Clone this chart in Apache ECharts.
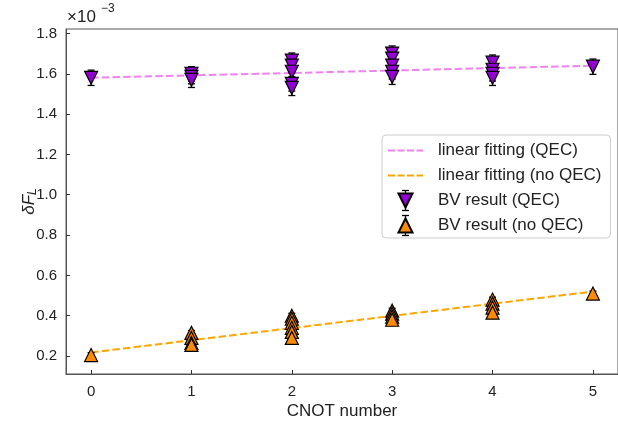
<!DOCTYPE html>
<html>
<head>
<meta charset="utf-8">
<script src="https://cdn.jsdelivr.net/npm/echarts@6/dist/echarts.min.js"></script>
<style>html,body{margin:0;padding:0;background:#fff}#c{width:618px;height:428px}</style>
</head>
<body>
<div id="c"></div>
<script>
// ---- data ----
const xTicks = [0, 1, 2, 3, 4, 5];
const yTicks = [0.2, 0.4, 0.6, 0.8, 1.0, 1.2, 1.4, 1.6, 1.8];

const qecX   = [0, 1, 1, 1, 2, 2, 2, 2, 2, 3, 3, 3, 3, 3, 4, 4, 4, 4, 5];
const qecY   = [1.58, 1.60, 1.585, 1.57, 1.665, 1.64, 1.61, 1.55, 1.53, 1.70, 1.675, 1.64, 1.61, 1.585, 1.655, 1.62, 1.60, 1.58, 1.635];
const qecErr = [0.038, 0.035, 0.035, 0.038, 0.038, 0.036, 0.036, 0.036, 0.038, 0.038, 0.036, 0.036, 0.036, 0.038, 0.038, 0.036, 0.036, 0.038, 0.038];

const noqecX   = [0, 1, 1, 1, 1, 2, 2, 2, 2, 2, 2, 3, 3, 3, 3, 4, 4, 4, 4, 5];
const noqecY   = [0.205, 0.315, 0.29, 0.265, 0.255, 0.40, 0.385, 0.365, 0.34, 0.32, 0.29, 0.425, 0.41, 0.395, 0.38, 0.48, 0.46, 0.44, 0.415, 0.51];
const noqecErr = [0.012, 0.012, 0.012, 0.012, 0.012, 0.012, 0.012, 0.012, 0.012, 0.012, 0.012, 0.012, 0.012, 0.012, 0.012, 0.012, 0.012, 0.012, 0.012, 0.012];

const fitX      = [0, 5];
const fitQEC    = [1.58, 1.64];
const fitNoQEC  = [0.218, 0.52];

const names = ['linear fitting (QEC)', 'linear fitting (no QEC)', 'BV result (QEC)', 'BV result (no QEC)'];

// ---- build ----
const zip = (xs, ys) => xs.map((x, i) => [x, ys[i]]);
const errData = (xs, ys, es) => xs.map((x, i) => [x, ys[i] - es[i], ys[i] + es[i]]);

function errRender(params, api) {
  const x = api.value(0), lo = api.value(1), hi = api.value(2);
  const p1 = api.coord([x, hi]);
  const p2 = api.coord([x, lo]);
  const hw = 3.5;
  const st = { stroke: '#000', lineWidth: 1.3 };
  return {
    type: 'group',
    children: [
      { type: 'line', shape: { x1: p1[0], y1: p1[1], x2: p2[0], y2: p2[1] }, style: st },
      { type: 'line', shape: { x1: p1[0] - hw, y1: p1[1], x2: p1[0] + hw, y2: p1[1] }, style: st },
      { type: 'line', shape: { x1: p2[0] - hw, y1: p2[1], x2: p2[0] + hw, y2: p2[1] }, style: st }
    ]
  };
}

const FONT = 'Liberation Sans, Arial, sans-serif';
const DASH_ICON = 'path://M0,0h7v1.8h-7z M9.5,0h7v1.8h-7z M19,0h7v1.8h-7z M28.5,0h6.5v1.8h-6.5z';
const DOWN_TRI = 'path://M0,0L14,0L7,14Z';
const UP_TRI = 'path://M7,0L14,14L0,14Z';

// legend error-bar glyphs (legend icon decoration)
const LX = 405.5, ROW3 = 200.5, ROW4 = 225.5, LH = 10, LC = 3.5;
function legendErr(cy) {
  const st = { stroke: '#000', lineWidth: 1.3 };
  return [
    { type: 'line', z: 1, shape: { x1: LX, y1: cy - LH, x2: LX, y2: cy + LH }, style: st },
    { type: 'line', z: 1, shape: { x1: LX - LC, y1: cy - LH, x2: LX + LC, y2: cy - LH }, style: st },
    { type: 'line', z: 1, shape: { x1: LX - LC, y1: cy + LH, x2: LX + LC, y2: cy + LH }, style: st }
  ];
}

const chart = echarts.init(document.getElementById('c'), null, { renderer: 'canvas' });

chart.setOption({
  animation: false,
  backgroundColor: '#fff',
  textStyle: { fontFamily: FONT },
  grid: { left: 66, top: 29, right: -4, bottom: 54, show: true, borderColor: '#555', borderWidth: 1, backgroundColor: 'transparent' },
  xAxis: {
    type: 'value', min: -0.25, max: 5.25,
    name: 'CNOT number', nameLocation: 'middle', nameGap: 29, nameMoveOverlap: false,
    nameTextStyle: { fontSize: 17, color: '#222', fontFamily: FONT },
    axisLine: { show: true, onZero: false, lineStyle: { color: '#555', width: 1 } },
    axisTick: { show: true, inside: true, length: 4, customValues: xTicks, lineStyle: { color: '#333' } },
    axisLabel: { customValues: xTicks, fontSize: 15, color: '#222', margin: 10, fontFamily: FONT },
    splitLine: { show: false }
  },
  yAxis: {
    type: 'value', min: 0.111, max: 1.822,
    name: '{a|δF}{s|L}', nameLocation: 'middle', nameGap: 27, nameMoveOverlap: false,
    nameTextStyle: {
      rich: {
        a: { fontSize: 17, fontStyle: 'italic', color: '#222', fontFamily: FONT, lineHeight: 20 },
        s: { fontSize: 12, fontStyle: 'italic', color: '#222', fontFamily: FONT, lineHeight: 20, verticalAlign: 'bottom', padding: [5, 0, 0, 0] }
      }
    },
    axisLine: { show: true, onZero: false, lineStyle: { color: '#555', width: 1 } },
    axisTick: { show: true, inside: true, length: 4, customValues: yTicks, lineStyle: { color: '#333' } },
    axisLabel: { customValues: yTicks, fontSize: 15, color: '#222', margin: 9, fontFamily: FONT, formatter: v => v.toFixed(1) },
    splitLine: { show: false }
  },
  legend: {
    orient: 'vertical', left: 382, top: 135,
    padding: [7, 9, 4, 6], itemGap: 8, itemWidth: 35, itemHeight: 14,
    backgroundColor: 'transparent', borderColor: '#ccc', borderWidth: 1, borderRadius: 4,
    textStyle: { fontSize: 17, lineHeight: 17, color: '#222', fontFamily: FONT, padding: [0, 0, 0, 10] },
    data: [
      { name: names[0], icon: DASH_ICON },
      { name: names[1], icon: DASH_ICON },
      { name: names[2], icon: DOWN_TRI },
      { name: names[3], icon: UP_TRI }
    ]
  },
  graphic: [
    { type: 'text', left: 67, top: 9, style: { text: '×10', fill: '#222', font: '17px Liberation Sans' } },
    { type: 'text', left: 101, top: 3, style: { text: '−3', fill: '#222', font: '12px Liberation Sans' } }
  ].concat(legendErr(ROW3), legendErr(ROW4)),
  series: [
    {
      name: names[0], type: 'line', data: zip(fitX, fitQEC), symbol: 'none', z: 3,
      lineStyle: { color: '#EE82EE', width: 2, type: [7.5, 3.2] }, itemStyle: { color: '#EE82EE' }
    },
    {
      name: names[1], type: 'line', data: zip(fitX, fitNoQEC), symbol: 'none', z: 3,
      lineStyle: { color: '#FFA500', width: 2, type: [7.5, 3.2] }, itemStyle: { color: '#FFA500' }
    },
    { type: 'custom', renderItem: errRender, data: errData(qecX, qecY, qecErr), z: 4, encode: { x: 0, y: [1, 2] } },
    { type: 'custom', renderItem: errRender, data: errData(noqecX, noqecY, noqecErr), z: 4, encode: { x: 0, y: [1, 2] } },
    {
      name: names[2], type: 'scatter', data: zip(qecX, qecY), symbol: 'triangle', symbolSize: 13, symbolRotate: 180, z: 5,
      itemStyle: { color: '#9400D3', borderColor: '#000', borderWidth: 1.2, opacity: 1 }
    },
    {
      name: names[3], type: 'scatter', data: zip(noqecX, noqecY), symbol: 'triangle', symbolSize: 13, z: 5,
      itemStyle: { color: '#FF8C00', borderColor: '#000', borderWidth: 1.2, opacity: 1 }
    }
  ]
});
</script>
</body>
</html>
